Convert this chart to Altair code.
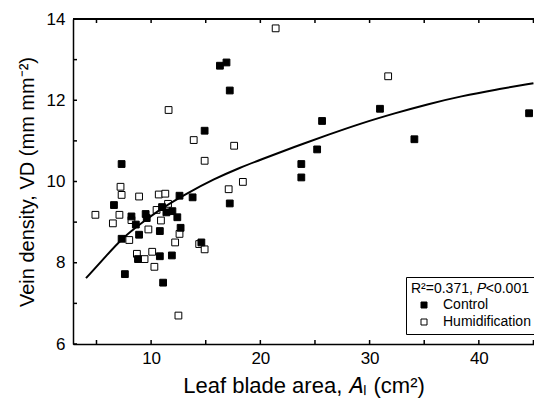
import altair as alt
import pandas as pd

# Control (filled squares)
ctrl_x = [7.3, 6.6, 8.2, 8.6, 7.3, 8.9, 9.5, 9.6, 11.0, 11.4, 11.95, 12.4, 12.6, 13.8,
          10.8, 12.7, 8.8, 10.8, 11.9, 7.6, 11.1, 14.6, 17.2, 16.3, 16.9, 17.2, 14.9,
          25.65, 25.2, 23.75, 23.75, 30.95, 44.6, 34.1]
ctrl_y = [10.43, 9.42, 9.14, 8.94, 8.59, 8.69, 9.2, 9.1, 9.37, 9.24, 9.27, 9.12, 9.65, 9.61,
          8.78, 8.86, 8.09, 8.16, 8.18, 7.72, 7.51, 8.5, 9.46, 12.85, 12.93, 12.24, 11.25,
          11.49, 10.79, 10.43, 10.1, 11.79, 11.68, 11.04]

# Humidification (open squares)
hum_x = [21.4, 11.6, 13.9, 17.6, 14.9, 18.4, 17.1, 31.7, 7.2, 7.3, 8.9, 10.7, 11.3, 4.9,
         7.1, 6.5, 8.2, 10.5, 10.9, 11.55, 9.75, 8.0, 12.2, 12.6, 14.4, 14.9, 8.7, 9.4,
         10.1, 10.3, 12.5]
hum_y = [13.77, 11.76, 11.02, 10.88, 10.51, 9.99, 9.81, 12.59, 9.87, 9.67, 9.63, 9.68, 9.7,
         9.18, 9.18, 8.97, 9.05, 9.3, 9.04, 9.45, 8.82, 8.56, 8.5, 8.71, 8.46, 8.33, 8.22,
         8.09, 8.27, 7.9, 6.7]

# Fitted curve
fit_x = [4.04, 5.96, 7.34, 9.03, 11.0, 13.3, 15.75, 18.2, 20.06, 23.1, 26.2, 29.2, 32.3,
         35.4, 38.4, 41.5, 45.0]
fit_y = [7.62, 8.19, 8.6, 8.96, 9.35, 9.71, 10.06, 10.35, 10.54, 10.85, 11.15, 11.43, 11.68,
         11.91, 12.10, 12.26, 12.42]

groups = ["Control", "Humidification"]
x_ticks = [5, 10, 15, 20, 25, 30, 35, 40, 45]
x_labels = [10, 20, 30, 40]
y_ticks = [6, 7, 8, 9, 10, 11, 12, 13, 14]
y_labels = [6, 8, 10, 12, 14]
legend_title = "R\u00b2=0.371, \U0001D443<0.001"

W, H = 461, 325
FONT = "Liberation Sans"

pts = pd.DataFrame({
    "x": hum_x + ctrl_x,
    "y": hum_y + ctrl_y,
    "group": ["Humidification"] * len(hum_x) + ["Control"] * len(ctrl_x),
})
fit_df = pd.DataFrame({"x": fit_x, "y": fit_y})
xt = pd.DataFrame({"v": x_ticks})
yt = pd.DataFrame({"v": y_ticks})

xscale = alt.Scale(domain=[2.85, 45.05], nice=False, zero=False)
yscale = alt.Scale(domain=[6, 14], nice=False, zero=False)

points = alt.Chart(pts).mark_point(shape="square", filled=True, size=46, stroke="black",
                                   strokeWidth=1, opacity=1).encode(
    x=alt.X("x:Q", scale=xscale,
            axis=alt.Axis(values=x_labels, ticks=False, domain=True, domainColor="black",
                          domainWidth=1.5, labelFont=FONT, labelFontSize=17, labelColor="black",
                          labelPadding=6, grid=False,
                          title="Leaf blade area, \U0001D434\u2097 (cm\u00b2)",
                          titleFont=FONT, titleFontSize=22, titleFontWeight="normal",
                          titleColor="black", titlePadding=9)),
    y=alt.Y("y:Q", scale=yscale,
            axis=alt.Axis(values=y_labels, ticks=False, domain=True, domainColor="black",
                          domainWidth=1.5, labelFont=FONT, labelFontSize=17, labelColor="black",
                          labelPadding=8, grid=False,
                          title="Vein density, VD (mm mm\u207b\u00b2)",
                          titleFont=FONT, titleFontSize=20, titleFontWeight="normal",
                          titleColor="black", titlePadding=9)),
    fill=alt.Fill("group:N", scale=alt.Scale(domain=groups, range=["black", "white"]),
                  legend=alt.Legend(title=legend_title, orient="none", legendX=333, legendY=258,
                                    strokeColor="black", fillColor="white", padding=5,
                                    titleFont=FONT, titleFontSize=14, titleFontWeight="normal",
                                    titleColor="black", titlePadding=2,
                                    labelFont=FONT, labelFontSize=14, labelColor="black",
                                    symbolType="square", symbolSize=36, symbolStrokeColor="black",
                                    symbolStrokeWidth=1, symbolOffset=6, labelOffset=12,
                                    rowPadding=3)),
)

fit = alt.Chart(fit_df).mark_line(color="black", strokeWidth=2, interpolate="basis").encode(
    x=alt.X("x:Q", scale=xscale),
    y=alt.Y("y:Q", scale=yscale),
)

top_line = alt.Chart(xt).mark_rule(color="black", strokeWidth=1.5).encode(
    x=alt.value(0), x2=alt.value(W), y=alt.value(0),
)
top_ticks = alt.Chart(xt).mark_rule(color="black", strokeWidth=1.5).encode(
    x=alt.X("v:Q", scale=xscale),
    y=alt.value(0), y2=alt.value(4),
)
bottom_ticks = alt.Chart(xt).mark_rule(color="black", strokeWidth=1.5).encode(
    x=alt.X("v:Q", scale=xscale),
    y=alt.value(H), y2=alt.value(H - 4),
)
left_ticks = alt.Chart(yt).mark_rule(color="black", strokeWidth=1.5).encode(
    y=alt.Y("v:Q", scale=yscale),
    x=alt.value(0), x2=alt.value(4),
)

chart = alt.layer(points, fit, top_line, top_ticks, bottom_ticks, left_ticks).properties(
    width=W, height=H,
    autosize=alt.AutoSizeParams(type="none"),
    padding={"left": 73, "top": 19, "right": 0, "bottom": 61},
    background="white",
).configure_view(stroke=None)

chart.save("out.html", embed_options={"renderer": "svg", "actions": False})
